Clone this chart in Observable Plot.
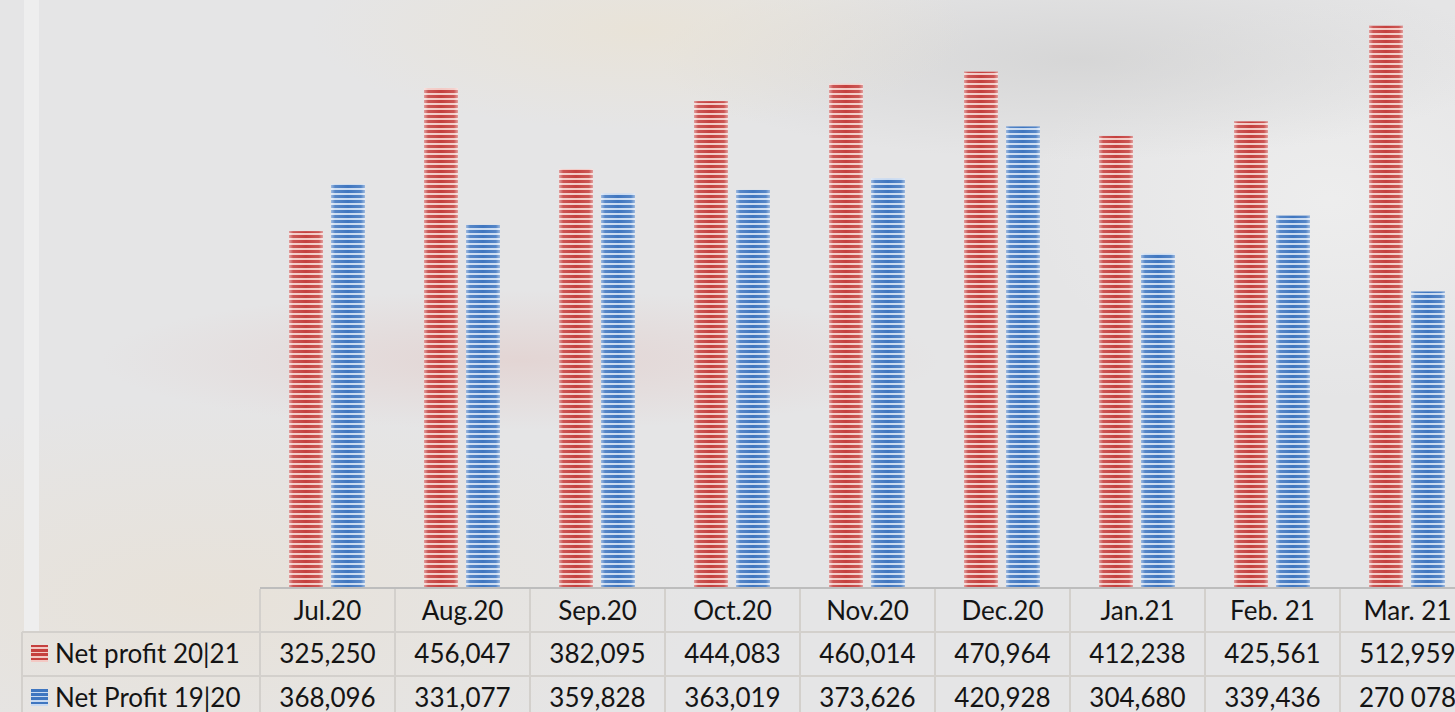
<!DOCTYPE html>
<html>
<head>
<meta charset="utf-8">
<script src="https://cdn.jsdelivr.net/npm/d3@7"></script>
<script src="https://cdn.jsdelivr.net/npm/@observablehq/plot@0.6"></script>
<style>
html, body { margin: 0; padding: 0; width: 1455px; height: 712px; overflow: hidden; }
body {
  position: relative;
  font-family: Lato, "Open Sans", sans-serif;
  background:
    radial-gradient(ellipse 420px 70px at 520px 360px, rgba(222,176,170,0.3), rgba(222,176,170,0) 100%),
    radial-gradient(ellipse 330px 100px at 640px 30px, rgba(234,226,210,0.7), rgba(234,226,210,0) 100%),
    radial-gradient(ellipse 420px 100px at 1080px 60px, rgba(208,208,208,0.7), rgba(208,208,208,0) 100%),
    radial-gradient(ellipse 300px 200px at 1330px 200px, rgba(238,238,238,0.9), rgba(238,238,238,0) 100%),
    radial-gradient(ellipse 500px 200px at 200px 600px, rgba(232,225,214,0.8), rgba(232,225,214,0) 100%),
    #e5e5e6;
}
#strip { position: absolute; left: 24px; top: 0; width: 15px; height: 632px; background: #eeeeee; }
#chart { position: absolute; left: 0; top: 0; }
#table { position: absolute; left: 0; top: 0; width: 1455px; height: 712px; }
.cell { position: absolute; display: flex; align-items: center; justify-content: center;
        font-size: 26px; color: #141414; white-space: nowrap; }
.label { justify-content: flex-start; }
.hline, .vline { position: absolute; background: #d3d0cc; }
</style>
</head>
<body>
<div id="strip"></div>
<div id="chart"></div>
<div id="table"></div>
<script>
// ---- data ----
const months = ["Jul.20", "Aug.20", "Sep.20", "Oct.20", "Nov.20", "Dec.20", "Jan.21", "Feb. 21", "Mar. 21"];
const seriesNames = ["Net profit 20|21", "Net Profit 19|20"];
const profit2021 = [325250, 456047, 382095, 444083, 460014, 470964, 412238, 425561, 512959];
const profit1920 = [368096, 331077, 359828, 363019, 373626, 420928, 304680, 339436, 270078];
const labels2021 = ["325,250", "456,047", "382,095", "444,083", "460,014", "470,964", "412,238", "425,561", "512,959"];
const labels1920 = ["368,096", "331,077", "359,828", "363,019", "373,626", "420,928", "304,680", "339,436", "270 078"];

const rows = [];
months.forEach((m, i) => {
  rows.push({month: m, series: seriesNames[0], value: profit2021[i]});
  rows.push({month: m, series: seriesNames[1], value: profit1920[i]});
});

const chart = Plot.plot({
  width: 1477,
  height: 589,
  marginLeft: 258,
  marginRight: 0,
  marginTop: 0,
  marginBottom: 2,
  fx: {domain: months, paddingInner: 0, paddingOuter: 0, axis: null, label: null},
  x: {domain: seriesNames, paddingInner: 0.186, paddingOuter: 0.666, axis: null},
  y: {domain: [0, 536500], axis: null},
  color: {domain: seriesNames, range: ["url(#stripeRed)", "url(#stripeBlue)"]},
  style: {background: "transparent", overflow: "visible", maxWidth: "none"},
  marks: [
    Plot.barY(rows, {fx: "month", x: "series", y: "value", fill: "series"}),
    Plot.barY(rows, {fx: "month", x: "series", y: "value", fill: "url(#shade)"}),
    Plot.ruleY([0], {stroke: "#bdbdbd", strokeWidth: 2, dy: 0.5})
  ]
});
chart.style.maxWidth = "none";

// patterns / gradients
const defs = d3.select(chart).insert("defs", ":first-child");
function stripe(id, dark, light) {
  const p = defs.append("pattern").attr("id", id).attr("patternUnits", "userSpaceOnUse")
    .attr("width", 8).attr("height", 5);
  p.append("rect").attr("width", 8).attr("height", 5).attr("fill", light);
  p.append("rect").attr("width", 8).attr("height", 3).attr("fill", dark);
}
stripe("stripeRed", "#c5403e", "#f3c9c4");
stripe("stripeBlue", "#3f76c0", "#c8daf1");
const g = defs.append("linearGradient").attr("id", "shade").attr("x1", 0).attr("x2", 1).attr("y1", 0).attr("y2", 0);
[[0, 0.5], [0.12, 0.12], [0.5, 0], [0.88, 0.12], [1, 0.5]].forEach(([o, a]) =>
  g.append("stop").attr("offset", o).attr("stop-color", "#ffffff").attr("stop-opacity", a));

document.getElementById("chart").appendChild(chart);

// ---- data table under the chart, aligned with the fx scale ----
const fx = chart.scale("fx");
const step = fx.step !== undefined ? fx.step : (fx.range[1] - fx.range[0]) / months.length;
const fxLeft = m => fx.apply(m);
const table = document.getElementById("table");
const rowTops = [589, 632, 676, 720];
function add(cls, style, text) {
  const d = document.createElement("div");
  d.className = cls;
  Object.assign(d.style, style);
  if (text !== undefined) d.textContent = text;
  table.appendChild(d);
  return d;
}
const x0 = fxLeft(months[0]);
const xEnd = fxLeft(months[months.length - 1]) + step;
// horizontal lines
add("hline", {left: "22px", top: (rowTops[1] - 1) + "px", width: (xEnd - 22) + "px", height: "2px"});
add("hline", {left: "22px", top: (rowTops[2] - 1) + "px", width: (xEnd - 22) + "px", height: "2px"});
// vertical lines
add("vline", {left: "21px", top: rowTops[1] + "px", width: "2px", height: (712 - rowTops[1]) + "px"});
months.forEach(m => {
  add("vline", {left: (fxLeft(m) - 1) + "px", top: "589px", width: "2px", height: (712 - 589) + "px"});
});
// header
months.forEach(m => {
  add("cell", {left: fxLeft(m) + "px", top: (rowTops[0] - 1) + "px", width: step + "px", height: (rowTops[1] - rowTops[0]) + "px"}, m);
});
// value rows
const valueRows = [labels2021, labels1920];
const swatchColors = [["#c5403e", "#f3c9c4"], ["#3f76c0", "#c8daf1"]];
valueRows.forEach((vals, r) => {
  const top = rowTops[r + 1], h = rowTops[r + 2] - rowTops[r + 1];
  const [dk, lt] = swatchColors[r];
  add("", {position: "absolute", left: "31px", top: (top + h / 2 - 9) + "px", width: "17px", height: "17px",
    background: `repeating-linear-gradient(to bottom, ${dk} 0px, ${dk} 2.5px, ${lt} 2.5px, ${lt} 4.2px)`});
  add("cell label", {left: "55px", top: (top - 1) + "px", width: (x0 - 58) + "px", height: h + "px"}, seriesNames[r]);
  months.forEach((m, i) => {
    add("cell", {left: fxLeft(m) + "px", top: (top - 1) + "px", width: step + "px", height: h + "px"}, vals[i]);
  });
});
</script>
</body>
</html>
